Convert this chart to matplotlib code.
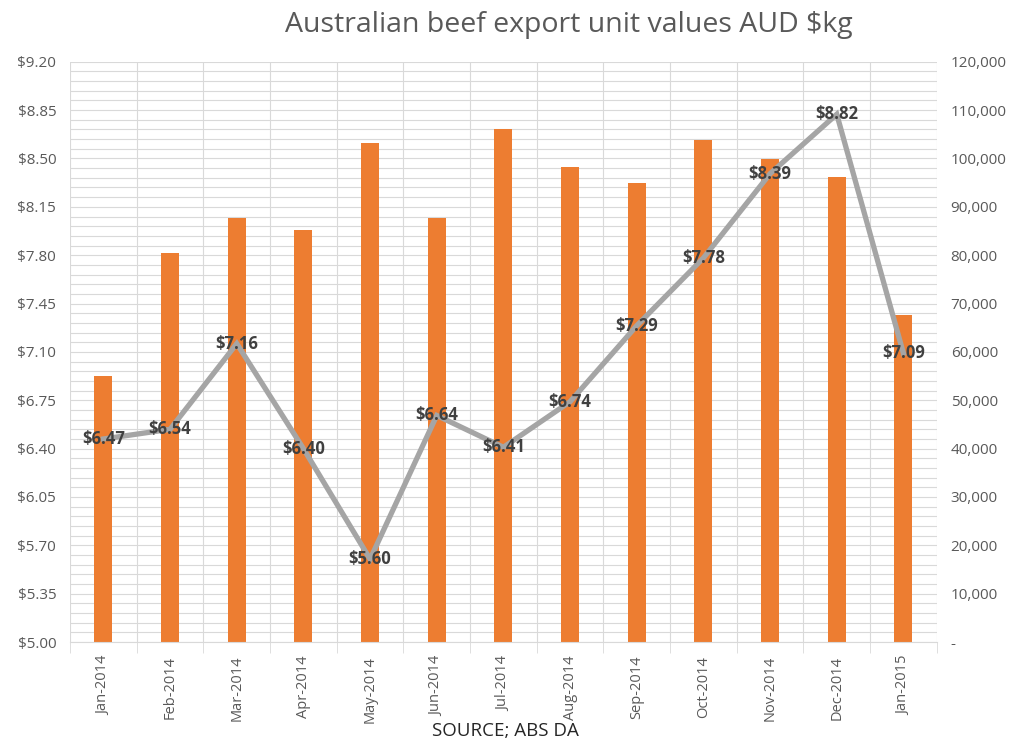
import numpy as np
import matplotlib
matplotlib.use("Agg")
import matplotlib.pyplot as plt
from matplotlib.ticker import FuncFormatter, MultipleLocator

plt.rcParams['font.family'] = ['Open Sans', 'DejaVu Sans']

# data
months = ['Jan-2014', 'Feb-2014', 'Mar-2014', 'Apr-2014', 'May-2014', 'Jun-2014',
          'Jul-2014', 'Aug-2014', 'Sep-2014', 'Oct-2014', 'Nov-2014', 'Dec-2014', 'Jan-2015']
volume = [55000, 80500, 87700, 85200, 103200, 87700,
          106100, 98300, 95000, 103900, 99900, 96200, 67700]
unit_value = [6.47, 6.54, 7.16, 6.40, 5.60, 6.64,
              6.41, 6.74, 7.29, 7.78, 8.39, 8.82, 7.09]

x = np.arange(len(months))
grid_col = '#D9D9D9'
txt_col = '#595959'

fig = plt.figure(figsize=(10.16, 7.44), dpi=100)
ax = fig.add_axes([0.069, 0.137, 0.853, 0.78])
ax2 = ax.twinx()

# bars on the right axis, drawn underneath the line axis
ax2.set_zorder(ax.get_zorder() - 1)
ax.patch.set_visible(False)
ax2.set_axisbelow(True)

ax2.bar(x, volume, width=0.27, color='#ED7D31', zorder=2)
ax2.set_ylim(0, 120000)
ax2.yaxis.set_major_locator(MultipleLocator(10000))
ax2.yaxis.set_minor_locator(MultipleLocator(2000))
ax2.yaxis.set_major_formatter(FuncFormatter(lambda v, p: '-' if v == 0 else f'{v:,.0f}'))
ax2.grid(axis='y', which='both', color=grid_col, linewidth=0.8)

ax.plot(x, unit_value, color='#A5A5A5', linewidth=3.8, solid_joinstyle='miter', zorder=3)
for xi, v in zip(x, unit_value):
    ax.text(xi, v, f'${v:.2f}', ha='center', va='center', fontsize=12,
            fontweight='bold', color='#404040', zorder=4)

ax.set_xlim(-0.5, len(months) - 0.5)
ax.set_ylim(5.0, 9.2)
ax.set_yticks(np.arange(5.0, 9.21, 0.35))
ax.yaxis.set_major_formatter(FuncFormatter(lambda v, p: f'${v:.2f}'))
ax.set_xticks(x)
ax.set_xticklabels(months, rotation=90)
ax.set_xticks(np.arange(-0.5, len(months), 1.0), minor=True)
ax.grid(axis='x', which='minor', color=grid_col, linewidth=0.8, zorder=0)

for a in (ax, ax2):
    for s in a.spines.values():
        s.set_visible(False)
    a.tick_params(axis='y', which='both', length=0, labelsize=11, labelcolor=txt_col, pad=10)
ax.spines['bottom'].set_visible(True)
ax.spines['bottom'].set_color(grid_col)
ax.tick_params(axis='x', which='major', length=0, labelsize=10.5, labelcolor=txt_col, pad=10)
ax.tick_params(axis='x', which='minor', length=8, color=grid_col)

fig.text(0.56, 0.967, 'Australian beef export unit values AUD $kg', ha='center', va='center',
         fontsize=20.5, color=txt_col)
fig.text(0.497, 0.017, 'SOURCE; ABS DA', ha='center', va='center', fontsize=13.5, color='#262626')

fig.savefig('out.png', dpi=100)
